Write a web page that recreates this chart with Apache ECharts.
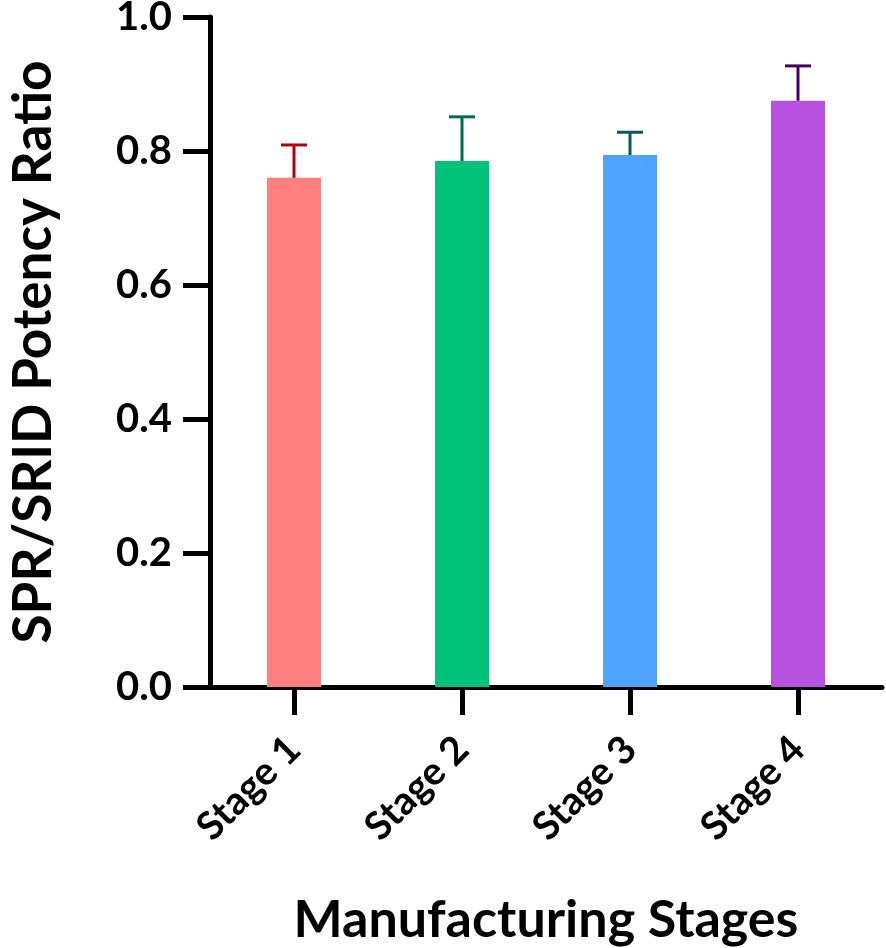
<!DOCTYPE html>
<html>
<head>
<meta charset="utf-8">
<script src="https://cdn.jsdelivr.net/npm/echarts@6/dist/echarts.min.js"></script>
<style>
  html, body { margin: 0; padding: 0; background: #fff; }
  #chart { width: 886px; height: 948px; }
</style>
</head>
<body>
<div id="chart"></div>
<script>
// data
var stages = ['Stage 1', 'Stage 2', 'Stage 3', 'Stage 4']
var means = [0.760, 0.785, 0.794, 0.875]
var errors = [0.049, 0.066, 0.034, 0.052]
var barColors = ['#FF7F7F', '#00C27A', '#4DA3FF', '#B651E0']
var errColors = ['#B00010', '#006B4C', '#0D5560', '#45005F']

var font = 'Lato, "Open Sans", sans-serif'

var myChart = echarts.init(document.getElementById('chart'))

let errData = []
means.forEach((m, i) => {
    errData.push([i, m, m + errors[i]])
})

let option = {
    animation: false,
    grid: {
        left: 210,
        right: 4,
        top: 17,
        bottom: 261,
        containLabel: false,
        outerBoundsMode: 'none'
    },
    xAxis: {
        type: 'category',
        data: stages,
        name: 'Manufacturing Stages',
        nameLocation: 'middle',
        nameGap: 207,
        nameTextStyle: { fontFamily: font, fontWeight: 'bold', fontSize: 52, color: '#000' },
        axisLine: { lineStyle: { color: '#000', width: 5 } },
        axisTick: { show: true, alignWithLabel: true, interval: 0, length: 28, lineStyle: { width: 5, color: '#000' } },
        axisLabel: {
            rotate: 45,
            margin: 56,
            interval: 0,
            fontFamily: font,
            fontWeight: 'bold',
            fontSize: 39,
            color: '#000'
        }
    },
    yAxis: {
        type: 'value',
        min: 0,
        max: 1.0,
        interval: 0.2,
        name: 'SPR/SRID Potency Ratio',
        nameLocation: 'middle',
        nameGap: 150,
        nameTextStyle: { fontFamily: font, fontWeight: 'bold', fontSize: 53, color: '#000' },
        splitLine: { show: false },
        axisLine: { show: true, lineStyle: { color: '#000', width: 5 } },
        axisTick: { show: true, length: 27, lineStyle: { width: 5, color: '#000' } },
        axisLabel: {
            margin: 38,
            fontFamily: font,
            fontWeight: 'bold',
            fontSize: 40,
            color: '#000',
            formatter: v => v.toFixed(1)
        }
    },
    series: [
        {
            type: 'bar',
            barWidth: 54,
            data: means.map((m, i) => ({ value: m, itemStyle: { color: barColors[i] } })),
            z: 2
        },
        {
            type: 'custom',
            z: 3,
            data: errData,
            renderItem: function (params, api) {
                let i = api.value(0)
                let lo = api.coord([i, api.value(1)])
                let hi = api.coord([i, api.value(2)])
                let c = errColors[params.dataIndex]
                let half = 13
                return {
                    type: 'group',
                    children: [
                        { type: 'line', shape: { x1: lo[0], y1: lo[1], x2: hi[0], y2: hi[1] }, style: { stroke: c, lineWidth: 3 } },
                        { type: 'line', shape: { x1: hi[0] - half, y1: hi[1], x2: hi[0] + half, y2: hi[1] }, style: { stroke: c, lineWidth: 3 } }
                    ]
                }
            }
        }
    ]
}

myChart.setOption(option)
</script>
</body>
</html>
